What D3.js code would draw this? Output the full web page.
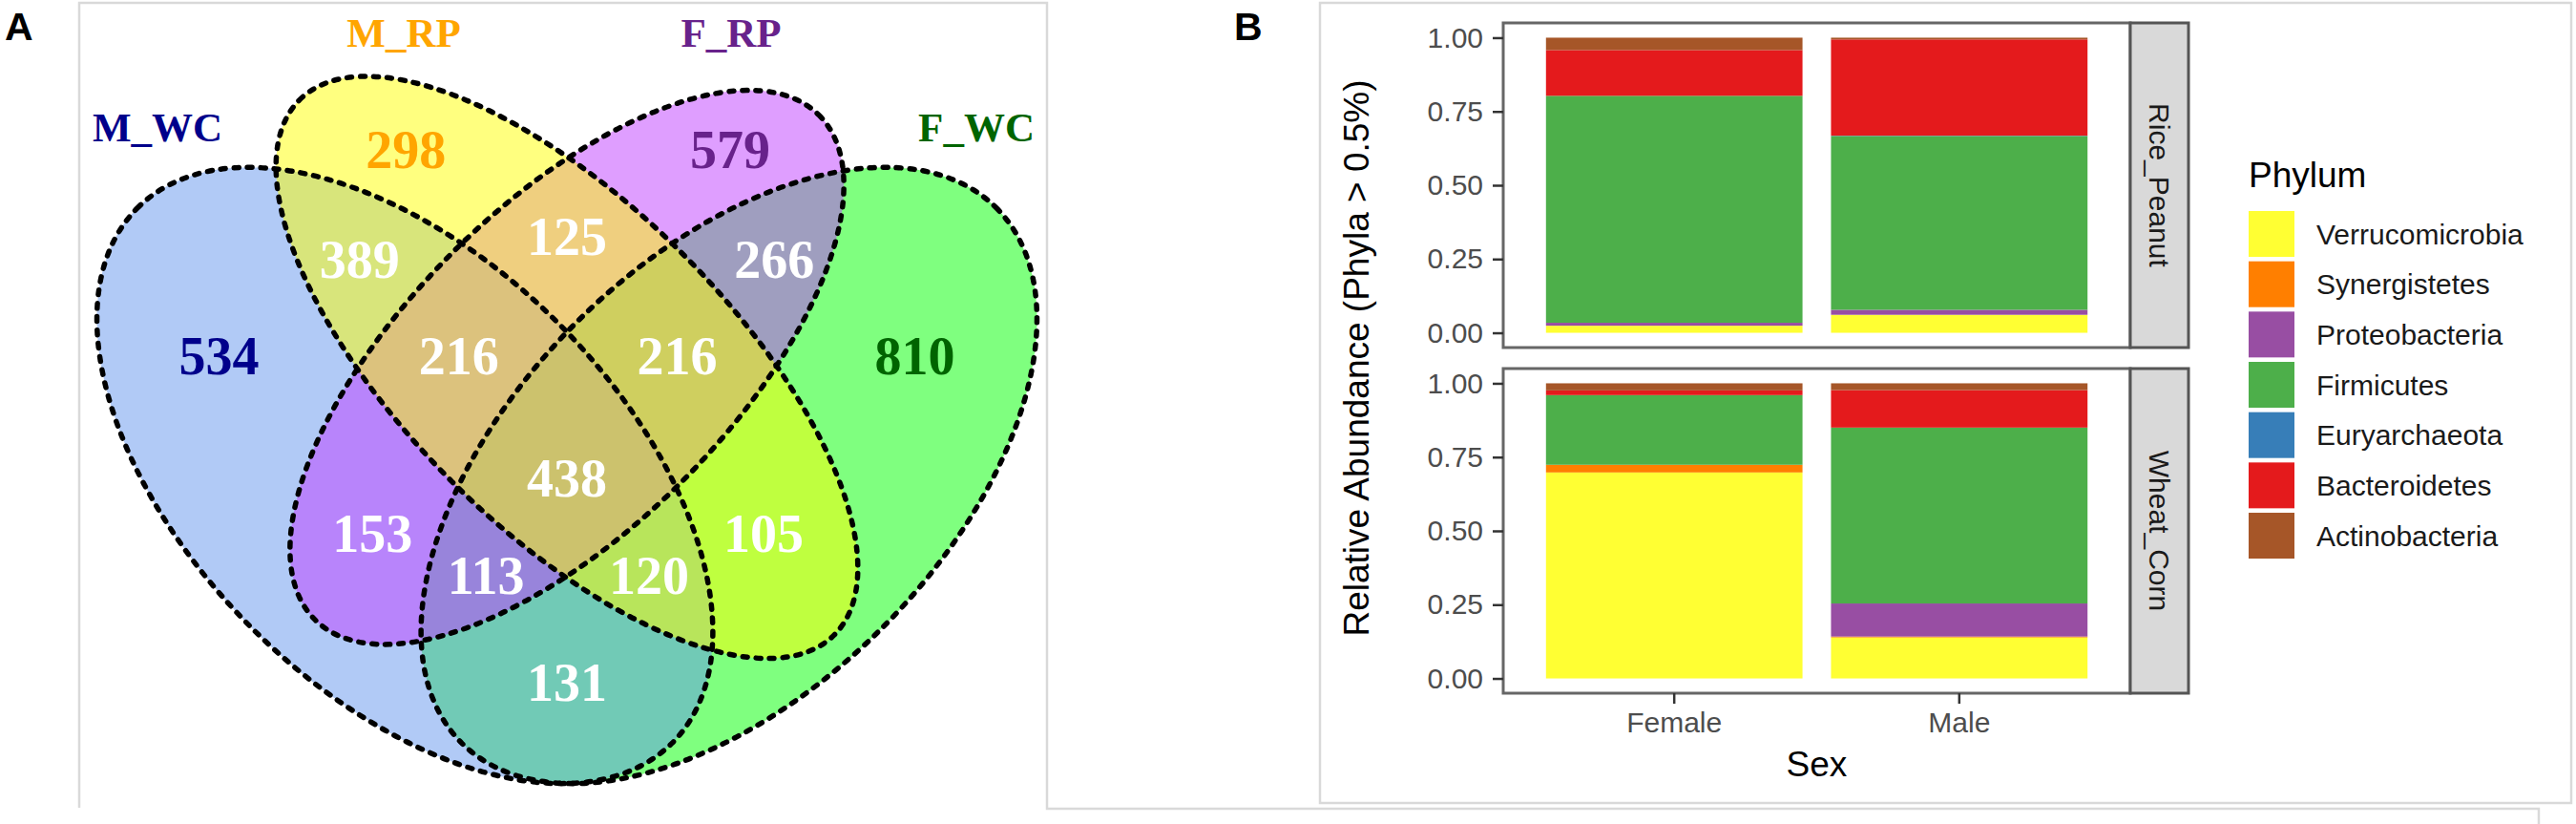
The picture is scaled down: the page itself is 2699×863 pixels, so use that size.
<!DOCTYPE html>
<html>
<head>
<meta charset="utf-8">
<script src="https://cdn.jsdelivr.net/npm/d3@7"></script>
<style>
  body { margin: 0; background: #fff; }
  text { font-family: "Liberation Sans", Arial, sans-serif; }
  .venn text { font-family: "Liberation Serif", "Times New Roman", serif; font-weight: bold; }
</style>
</head>
<body>
<svg id="fig" width="2699" height="863"></svg>
<script>
// ---------------- panel A : four-set Venn ----------------
var setNames  = ["F_WC", "M_WC", "F_RP", "M_RP"];            // drawing order
var setFills  = ["#00FF00", "#6495ED", "#BF3EFF", "#FFFF00"];
var setText   = ["#006400", "#00008B", "#68228B", "#FFA500"];

// region counts (membership string in order M_WC, M_RP, F_RP, F_WC)
var regionKeys   = ["1000", "0100", "0010", "0001", "1100", "0110", "0011", "1110",
                    "0111", "1111", "1010", "0101", "1011", "1101", "1001"];
var regionCounts = [534, 298, 579, 810, 389, 125, 266, 216, 216, 438, 153, 105, 113, 120, 131];

// ellipse geometry in unit square (VennDiagram quad layout): cx, cy, a, b, angle
var ellipseShapes = [
  [0.65, 0.47, 0.35, 0.20,  45],
  [0.35, 0.47, 0.35, 0.20, 135],
  [0.50, 0.57, 0.33, 0.15,  45],
  [0.50, 0.57, 0.35, 0.15, 135]
];
// label anchors in unit square
var regionAnchors = [
  [0.178, 0.580], [0.351, 0.771], [0.651, 0.771], [0.822, 0.580], [0.308, 0.670],
  [0.500, 0.691], [0.692, 0.670], [0.400, 0.580], [0.602, 0.580], [0.500, 0.467],
  [0.320, 0.416], [0.682, 0.416], [0.425, 0.377], [0.576, 0.377], [0.500, 0.278]
];
var setAnchors = [[0.879, 0.792], [0.121, 0.792], [0.652, 0.879], [0.349, 0.879]];

// ---------------- panel B : stacked bars ----------------
var sexes  = ["Female", "Male"];
var diets  = ["Rice_Peanut", "Wheat_Corn"];
var phyla  = ["Verrucomicrobia", "Synergistetes", "Proteobacteria", "Firmicutes",
              "Euryarchaeota", "Bacteroidetes", "Actinobacteria"];
var phylumColors = ["#FFFF33", "#FF7F00", "#984EA3", "#4DAF4A", "#377EB8", "#E41A1C", "#A65628"];
var ricePeanutFemale = [0.024, 0.000, 0.010, 0.769, 0.000, 0.155, 0.042];
var ricePeanutMale   = [0.061, 0.000, 0.017, 0.589, 0.001, 0.326, 0.006];
var wheatCornFemale  = [0.698, 0.026, 0.000, 0.236, 0.000, 0.016, 0.024];
var wheatCornMale    = [0.139, 0.003, 0.112, 0.596, 0.000, 0.127, 0.023];
var yTicks = [0, 0.25, 0.5, 0.75, 1];

var svg = d3.select("#fig");

// outer photo frames
svg.append("path")
  .attr("d", "M83,846V3H1097V847H2660V863")
  .attr("fill", "none").attr("stroke", "#d9d9d9").attr("stroke-width", 2.5);
svg.append("rect")
  .attr("x", 1383).attr("y", 3).attr("width", 1311).attr("height", 838)
  .attr("fill", "#fff").attr("stroke", "#d9d9d9").attr("stroke-width", 2.5);

svg.append("text").attr("x", 5).attr("y", 42)
  .style("font-size", "41px").style("font-weight", "bold").text("A");
svg.append("text").attr("x", 1293).attr("y", 42)
  .style("font-size", "41px").style("font-weight", "bold").text("B");

// ---- Venn
var vx = d3.scaleLinear().domain([0, 1]).range([28, 1160]);
var vy = d3.scaleLinear().domain([0, 1]).range([1030, -102]);
var unit = vx(1) - vx(0);

var venn = svg.append("g").attr("class", "venn");

venn.selectAll("ellipse.fill")
  .data(ellipseShapes)
  .enter().append("ellipse")
  .attr("class", "fill")
  .attr("rx", function(d) { return d[2] * unit; })
  .attr("ry", function(d) { return d[3] * unit; })
  .attr("transform", function(d) { return "translate(" + vx(d[0]) + "," + vy(d[1]) + ")rotate(" + (-d[4]) + ")"; })
  .attr("fill", function(d, i) { return setFills[i]; })
  .attr("fill-opacity", 0.5);

venn.selectAll("ellipse.line")
  .data(ellipseShapes)
  .enter().append("ellipse")
  .attr("class", "line")
  .attr("rx", function(d) { return d[2] * unit; })
  .attr("ry", function(d) { return d[3] * unit; })
  .attr("transform", function(d) { return "translate(" + vx(d[0]) + "," + vy(d[1]) + ")rotate(" + (-d[4]) + ")"; })
  .attr("fill", "none")
  .attr("stroke", "#000")
  .attr("stroke-width", 5.5)
  .attr("stroke-linecap", "round")
  .attr("stroke-dasharray", "5,9");

// outer-only regions keep the set colour, all others white
var soloColour = { "1000": "#00008B", "0100": "#FFA500", "0010": "#68228B", "0001": "#006400" };

venn.selectAll("text.count")
  .data(regionCounts)
  .enter().append("text")
  .attr("class", "count")
  .attr("x", function(d, i) { return vx(regionAnchors[i][0]); })
  .attr("y", function(d, i) { return vy(regionAnchors[i][1]); })
  .attr("dy", "0.34em")
  .attr("text-anchor", "middle")
  .style("font-size", "56px")
  .attr("fill", function(d, i) { return soloColour[regionKeys[i]] || "#fff"; })
  .text(function(d) { return d; });

venn.selectAll("text.set")
  .data(setNames)
  .enter().append("text")
  .attr("class", "set")
  .attr("x", function(d, i) { return vx(setAnchors[i][0]); })
  .attr("y", function(d, i) { return vy(setAnchors[i][1]); })
  .attr("dy", "0.33em")
  .attr("text-anchor", "middle")
  .style("font-size", "43px")
  .attr("fill", function(d, i) { return setText[i]; })
  .text(function(d) { return d; });

// ---- stacked bars, faceted by diet
var plotLeft = 1575, plotRight = 2232, stripW = 61, panelH = 340;
var panelTops = [24, 386];
var facetRows = [[ricePeanutFemale, ricePeanutMale], [wheatCornFemale, wheatCornMale]];

var x = d3.scaleBand().domain(sexes).range([plotLeft, plotRight])
  .paddingInner(0.1).paddingOuter(0.15);
var colour = d3.scaleOrdinal().domain(phyla).range(phylumColors);
var stack = d3.stack().keys(phyla);

diets.forEach(function(diet, f) {
  var top = panelTops[f];
  var y = d3.scaleLinear().domain([-0.05, 1.05]).range([top + panelH, top]);

  var rows = sexes.map(function(s, j) {
    var r = { sex: s };
    phyla.forEach(function(p, k) { r[p] = facetRows[f][j][k]; });
    return r;
  });

  var g = svg.append("g");
  g.append("rect").attr("x", plotLeft).attr("y", top)
    .attr("width", plotRight - plotLeft).attr("height", panelH).attr("fill", "#fff");

  g.selectAll("g.layer")
    .data(stack(rows))
    .enter().append("g")
    .attr("class", "layer")
    .attr("fill", function(d) { return colour(d.key); })
    .selectAll("rect")
    .data(function(d) { return d; })
    .enter().append("rect")
    .attr("x", function(d) { return x(d.data.sex); })
    .attr("width", x.bandwidth())
    .attr("y", function(d) { return y(d[1]); })
    .attr("height", function(d) { return y(d[0]) - y(d[1]); });

  g.append("rect").attr("x", plotLeft).attr("y", top)
    .attr("width", plotRight - plotLeft).attr("height", panelH)
    .attr("fill", "none").attr("stroke", "#666").attr("stroke-width", 3);

  // facet strip
  g.append("rect").attr("x", plotRight).attr("y", top)
    .attr("width", stripW).attr("height", panelH)
    .attr("fill", "#D9D9D9").attr("stroke", "#555").attr("stroke-width", 3);
  g.append("text")
    .attr("transform", "translate(" + (plotRight + stripW / 2) + "," + (top + panelH / 2) + ")rotate(90)")
    .attr("text-anchor", "middle").attr("dy", "0.35em")
    .style("font-size", "30px").attr("fill", "#1A1A1A")
    .text(diet);

  var ya = g.append("g")
    .attr("transform", "translate(" + plotLeft + ",0)")
    .call(d3.axisLeft(y).tickValues(yTicks).tickFormat(d3.format(".2f")).tickSize(11).tickPadding(10));
  ya.select(".domain").remove();
  ya.selectAll(".tick line").attr("stroke", "#333").attr("stroke-width", 2.5);
  ya.selectAll(".tick text").style("font-size", "30px").attr("fill", "#4D4D4D")
    .style("font-family", "'Liberation Sans', Arial, sans-serif");
});

var xa = svg.append("g")
  .attr("transform", "translate(0," + (panelTops[1] + panelH) + ")")
  .call(d3.axisBottom(x).tickSize(11).tickPadding(9));
xa.select(".domain").remove();
xa.selectAll(".tick line").attr("stroke", "#333").attr("stroke-width", 2.5);
xa.selectAll(".tick text").style("font-size", "30px").attr("fill", "#4D4D4D")
  .style("font-family", "'Liberation Sans', Arial, sans-serif");

svg.append("text")
  .attr("x", (plotLeft + plotRight) / 2).attr("y", 813)
  .attr("text-anchor", "middle").style("font-size", "37px").attr("fill", "#000")
  .text("Sex");

svg.append("text")
  .attr("transform", "translate(1434," + ((panelTops[0] + panelTops[1] + panelH) / 2) + ")rotate(-90)")
  .attr("text-anchor", "middle").style("font-size", "37px").attr("fill", "#000")
  .text("Relative Abundance (Phyla > 0.5%)");

// legend
var legend = svg.append("g").attr("transform", "translate(2356,0)");
legend.append("text").attr("x", 0).attr("y", 196)
  .style("font-size", "37px").attr("fill", "#000").text("Phylum");

var item = legend.selectAll("g.item")
  .data(phyla)
  .enter().append("g")
  .attr("class", "item")
  .attr("transform", function(d, i) { return "translate(0," + (221 + i * 52.67) + ")"; });
item.append("rect").attr("width", 48).attr("height", 48)
  .attr("fill", function(d) { return colour(d); });
item.append("text").attr("x", 71).attr("y", 24).attr("dy", "0.35em")
  .style("font-size", "30px").attr("fill", "#1A1A1A")
  .text(function(d) { return d; });
</script>
</body>
</html>
